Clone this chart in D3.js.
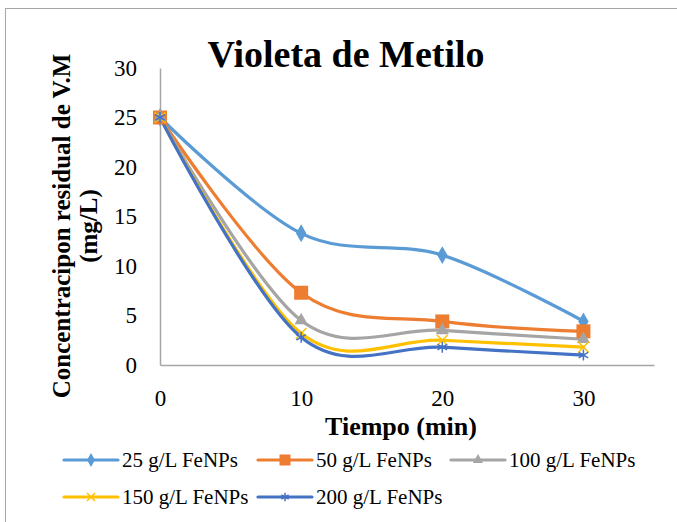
<!DOCTYPE html>
<html>
<head>
<meta charset="utf-8">
<script src="https://cdn.jsdelivr.net/npm/d3@7"></script>
<style>
  body { margin: 0; background: #fff; }
  svg text { font-family: "Liberation Serif", "Times New Roman", serif; fill: #000; }
</style>
</head>
<body>
<svg id="chart" width="677" height="522"></svg>
<script>
// data
const times = [0, 10, 20, 30]
const seriesNames = ['25 g/L FeNPs', '50 g/L FeNPs', '100 g/L FeNPs', '150 g/L FeNPs', '200 g/L FeNPs']
const s25 = [25, 13.3, 11.1, 4.4]
const s50 = [25, 7.3, 4.4, 3.4]
const s100 = [25, 4.5, 3.5, 2.6]
const s150 = [25, 3.2, 2.5, 1.8]
const s200 = [25, 2.8, 1.8, 1.0]
const yTicks = [0, 5, 10, 15, 20, 25, 30]
const xTicks = [0, 10, 20, 30]

const colors = ['#5B9BD5', '#ED7D31', '#A5A5A5', '#FFC000', '#4472C4']
const markers = ['diamond', 'square', 'triangle', 'x', 'star']
const allSeries = [s25, s50, s100, s150, s200].map((vals, i) => ({
  name: seriesNames[i],
  color: colors[i],
  marker: markers[i],
  points: vals.map((v, j) => ({ t: times[j], v }))
}))

const serif = '"Liberation Serif", "Times New Roman", serif'
const svg = d3.select('#chart')

// chart frame
svg.append('rect')
  .attr('x', 5.5).attr('y', 8.5)
  .attr('width', 700).attr('height', 540)
  .attr('fill', 'none').attr('stroke', '#a6a6a6').attr('stroke-width', 1)

const x = d3.scaleLinear().domain([0, 35]).range([160, 654])
const y = d3.scaleLinear().domain([0, 30]).range([365, 68])

// axes
const xAxis = svg.append('g')
  .attr('transform', 'translate(0,365)')
  .call(d3.axisBottom(x).tickValues(xTicks).tickSize(0).tickPadding(25))
xAxis.select('.domain').attr('stroke', '#a6a6a6').attr('stroke-width', 1.5)
xAxis.selectAll('text').style('font-family', serif).style('font-size', '23px')

const yAxis = svg.append('g')
  .attr('transform', 'translate(160,0)')
  .call(d3.axisLeft(y).tickValues(yTicks).tickSize(0).tickPadding(23))
yAxis.select('.domain').attr('stroke', '#a6a6a6').attr('stroke-width', 1.5)
yAxis.selectAll('text').style('font-family', serif).style('font-size', '23px')

// title & axis titles
svg.append('text')
  .attr('x', 346).attr('y', 67)
  .attr('text-anchor', 'middle')
  .attr('font-size', 38).attr('font-weight', 'bold')
  .text('Violeta de Metilo')

svg.append('text')
  .attr('x', 401).attr('y', 435)
  .attr('text-anchor', 'middle')
  .attr('font-size', 26).attr('font-weight', 'bold')
  .text('Tiempo (min)')

const yTitleLines = ['Concentracipon residual de V.M', '(mg/L)']
yTitleLines.forEach((t, i) => {
  svg.append('text')
    .attr('transform', `translate(${70 + i * 27},226) rotate(-90)`)
    .attr('text-anchor', 'middle')
    .attr('font-size', 25).attr('font-weight', 'bold')
    .text(t)
})

// marker drawing
function drawMarker (g, type, color, size) {
  if (type === 'diamond') {
    g.append('path').attr('d', d3.symbol(d3.symbolDiamond, size * size * 0.55)())
      .attr('fill', color)
  } else if (type === 'square') {
    g.append('rect').attr('x', -size / 2).attr('y', -size / 2)
      .attr('width', size).attr('height', size).attr('fill', color)
  } else if (type === 'triangle') {
    g.append('path').attr('d', d3.symbol(d3.symbolTriangle, size * size * 0.45)())
      .attr('fill', color)
  } else if (type === 'x') {
    g.append('path').attr('d', d3.symbol(d3.symbolX, size * size * 0.45)())
      .attr('fill', 'none').attr('stroke', color).attr('stroke-width', 1.5)
  } else if (type === 'star') {
    g.append('path').attr('d', d3.symbol(d3.symbolAsterisk, size * size * 0.5)())
      .attr('fill', 'none').attr('stroke', color).attr('stroke-width', 1.5)
  }
}

const line = d3.line()
  .x(d => x(d.t))
  .y(d => y(d.v))
  .curve(d3.curveCardinal.tension(0))

allSeries.forEach((s) => {
  svg.append('path')
    .datum(s.points)
    .attr('fill', 'none')
    .attr('stroke', s.color)
    .attr('stroke-width', 3.2)
    .attr('stroke-linejoin', 'round')
    .attr('stroke-linecap', 'round')
    .attr('d', line)
})

allSeries.forEach((s) => {
  s.points.forEach((p) => {
    const g = svg.append('g').attr('transform', `translate(${x(p.t)},${y(p.v)})`)
    drawMarker(g, s.marker, s.color, s.marker === 'square' ? 14 : 13)
  })
})

// legend
const legendPos = [
  { lx: 64, ty: 460 }, { lx: 258, ty: 460 }, { lx: 451, ty: 460 },
  { lx: 64, ty: 497 }, { lx: 258, ty: 497 }
]
allSeries.forEach((s, i) => {
  const p = legendPos[i]
  const g = svg.append('g').attr('transform', `translate(${p.lx},${p.ty})`)
  g.append('line').attr('x1', 0).attr('x2', 54).attr('y1', 0).attr('y2', 0)
    .attr('stroke', s.color).attr('stroke-width', 3.2).attr('stroke-linecap', 'round')
  const mg = g.append('g').attr('transform', 'translate(27,0)')
  drawMarker(mg, s.marker, s.color, s.marker === 'square' ? 11 : 10)
  g.append('text').attr('x', 58).attr('y', 7)
    .attr('font-size', 21)
    .text(s.name)
})
</script>
</body>
</html>
